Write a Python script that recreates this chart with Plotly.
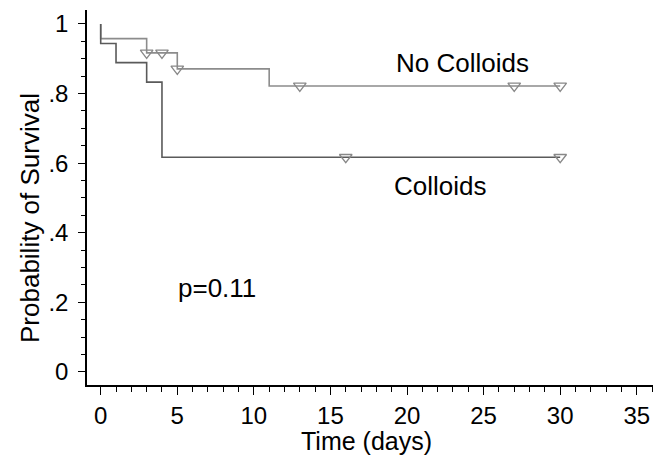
import plotly.graph_objects as go

# Kaplan-Meier step data
no_colloids_time = [0, 0, 3, 5, 11, 30]
no_colloids_surv = [1.0, 0.958, 0.917, 0.871, 0.822, 0.822]
no_colloids_censor = [3, 4, 5, 13, 27, 30]

colloids_time = [0, 0, 1, 3, 4, 30]
colloids_surv = [1.0, 0.944, 0.889, 0.833, 0.617, 0.617]
colloids_censor = [16, 30]

x_ticks = [0, 5, 10, 15, 20, 25, 30, 35]
y_ticks = [0, 0.2, 0.4, 0.6, 0.8, 1.0]
y_ticktext = ["0", ".2", ".4", ".6", ".8", "1"]


def surv_at(times, surv, t):
    val = surv[0]
    for ti, si in zip(times, surv):
        if ti <= t:
            val = si
    return val


FONT = "Liberation Sans, Arial, Helvetica, sans-serif"
LIGHT = "#8c8c8c"
DARK = "#5a5a5a"

fig = go.Figure()
fig.add_trace(go.Scatter(x=no_colloids_time, y=no_colloids_surv, mode="lines",
                         line=dict(shape="hv", color=LIGHT, width=1.6),
                         hoverinfo="skip", showlegend=False))
fig.add_trace(go.Scatter(x=colloids_time, y=colloids_surv, mode="lines",
                         line=dict(shape="hv", color=DARK, width=1.6),
                         hoverinfo="skip", showlegend=False))
fig.add_trace(go.Scatter(x=no_colloids_censor,
                         y=[surv_at(no_colloids_time, no_colloids_surv, t) for t in no_colloids_censor],
                         mode="markers",
                         marker=dict(symbol="triangle-down-open", size=11, color="#888888",
                                     line=dict(width=1.3)),
                         showlegend=False))
fig.add_trace(go.Scatter(x=colloids_censor,
                         y=[surv_at(colloids_time, colloids_surv, t) for t in colloids_censor],
                         mode="markers",
                         marker=dict(symbol="triangle-down-open", size=11, color="#888888",
                                     line=dict(width=1.3)),
                         showlegend=False))

fig.update_layout(
    width=666, height=458,
    margin=dict(l=87, r=13, t=10, b=73),
    paper_bgcolor="white", plot_bgcolor="white",
    font=dict(family=FONT, size=24, color="black"),
    xaxis=dict(range=[-0.895, 36.06], tickvals=x_ticks, ticks="outside", ticklen=8,
               tickwidth=1.3, tickcolor="black", showline=True, linecolor="black",
               linewidth=1.5, showgrid=False, zeroline=False, ticklabelstandoff=0,
               minor=dict(ticks="outside", dtick=1, tick0=0, ticklen=5, tickwidth=1,
                          tickcolor="black", showgrid=False),
               tickfont=dict(size=24)),
    yaxis=dict(range=[-0.0374, 1.0402], tickvals=y_ticks, ticktext=y_ticktext,
               ticks="outside", ticklen=7, tickwidth=1.3, tickcolor="black",
               showline=True, linecolor="black", linewidth=1.5, showgrid=False,
               zeroline=False, ticklabelstandoff=5,
               minor=dict(ticks="outside", dtick=0.05, tick0=0, ticklen=4, tickwidth=1,
                          tickcolor="black", showgrid=False),
               tickfont=dict(size=24)),
    annotations=[
        dict(text="No Colloids", x=23.6, y=0.888, xref="x", yref="y",
             xanchor="center", yanchor="middle", showarrow=False, font=dict(size=26)),
        dict(text="Colloids", x=22.2, y=0.534, xref="x", yref="y",
             xanchor="center", yanchor="middle", showarrow=False, font=dict(size=26)),
        dict(text="p=0.11", x=7.6, y=0.241, xref="x", yref="y",
             xanchor="center", yanchor="middle", showarrow=False, font=dict(size=26)),
        dict(text="Time (days)", x=(366 - 87) / 566, y=(385 - 441) / 375,
             xref="paper", yref="paper", xanchor="center", yanchor="middle",
             showarrow=False, font=dict(size=25)),
        dict(text="Probability of Survival", x=(30 - 87) / 566, y=(385 - 218) / 375,
             xref="paper", yref="paper", xanchor="center", yanchor="middle",
             showarrow=False, textangle=-90, font=dict(size=26)),
    ],
)

fig.write_html("out.html")
